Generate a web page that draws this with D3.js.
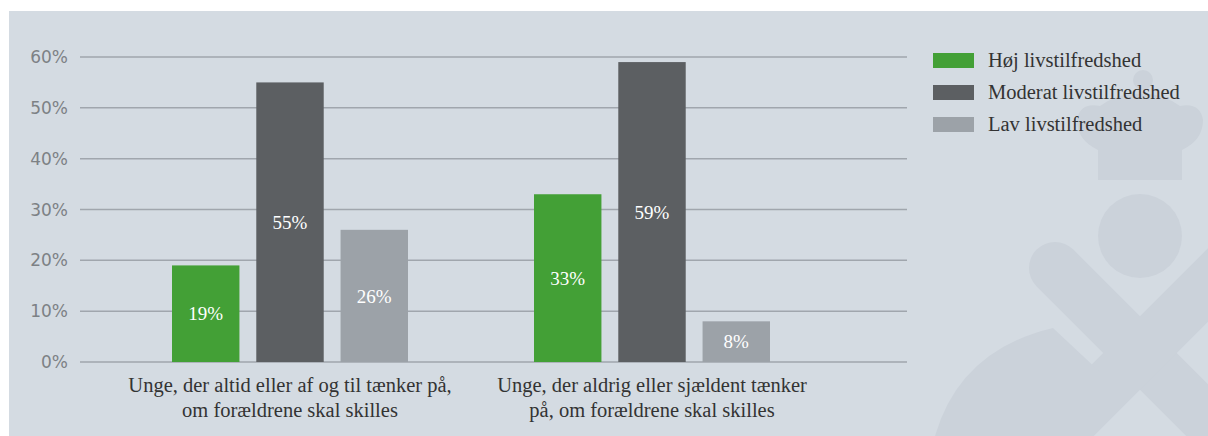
<!DOCTYPE html>
<html>
<head>
<meta charset="utf-8">
<script src="https://cdn.jsdelivr.net/npm/d3@7"></script>
<style>
  body { margin: 0; background: #fff; }
</style>
</head>
<body>
<script>
// * Data
const groups = [
	["Unge, der altid eller af og til tænker på,", "om forældrene skal skilles"],
	["Unge, der aldrig eller sjældent tænker", "på, om forældrene skal skilles"],
];
const seriesNames = ["Høj livstilfredshed", "Moderat livstilfredshed", "Lav livstilfredshed"];
const hoj = [19, 33];
const moderat = [55, 59];
const lav = [26, 8];
const yTicks = [0, 10, 20, 30, 40, 50, 60];

const colors = ["#43a036", "#5c5f62", "#9ca2a8"];
const series = [hoj, moderat, lav];

// * Size
const width = 1208;
const height = 436;
const serif = "'Liberation Serif', serif";

const svg = d3
	.select("body")
	.append("svg")
	.attr("width", width)
	.attr("height", height);

// * Panel background
svg.append("rect")
	.attr("x", 9)
	.attr("y", 11)
	.attr("width", width - 9)
	.attr("height", height - 11)
	.attr("fill", "#d4dbe2");

svg.append("clipPath")
	.attr("id", "panel")
	.append("rect")
	.attr("x", 9)
	.attr("y", 11)
	.attr("width", width - 9)
	.attr("height", height - 11);

// * Watermark (rough crown + figure)
const wm = svg.append("g").attr("clip-path", "url(#panel)").attr("fill", "#cbd2da").attr("stroke", "#cbd2da");
wm.append("rect").attr("x", 1098).attr("y", 156).attr("width", 84).attr("height", 24).attr("stroke", "none");
wm.append("path")
	.attr("d", "M1098,158 L1098,150 Q1077,140 1077,120 Q1080,102 1100,106 Q1120,92 1140,94 Q1160,92 1180,106 Q1200,102 1203,120 Q1203,140 1182,150 L1182,158 Z")
	.attr("stroke", "none");
wm.append("circle").attr("cx", 1143).attr("cy", 80).attr("r", 10).attr("stroke", "none");
wm.append("circle").attr("cx", 1140).attr("cy", 236).attr("r", 42).attr("stroke", "none");
wm.append("line")
	.attr("x1", 1055).attr("y1", 268).attr("x2", 1230).attr("y2", 443)
	.attr("stroke-width", 52).attr("stroke-linecap", "round");
wm.append("line")
	.attr("x1", 1225).attr("y1", 268).attr("x2", 1050).attr("y2", 443)
	.attr("stroke-width", 52).attr("stroke-linecap", "round");
wm.append("path")
	.attr("d", "M935,436 Q960,350 1053,328 L1100,372 L1036,436 Z")
	.attr("stroke", "none");

// * Scales
const y = d3.scaleLinear().domain([0, 60]).range([362, 57]);
const x0 = d3.scaleBand().domain(d3.range(groups.length)).range([109, 833]).padding(0);
const x1 = d3
	.scaleBand()
	.domain(d3.range(series.length))
	.range([63, 299])
	.paddingInner(0.2);

// * Grid lines
svg.append("g")
	.selectAll("line")
	.data(yTicks)
	.join("line")
	.attr("x1", 80)
	.attr("x2", 907)
	.attr("y1", (d) => y(d))
	.attr("y2", (d) => y(d))
	.attr("stroke", "#a0a6ad")
	.attr("stroke-width", 1.5);

// * Y axis labels
svg.append("g")
	.selectAll("text")
	.data(yTicks)
	.join("text")
	.attr("x", 68)
	.attr("y", (d) => y(d))
	.attr("dy", "0.36em")
	.attr("text-anchor", "end")
	.attr("font-family", "'DejaVu Sans', sans-serif")
	.attr("font-size", "17px")
	.attr("fill", "#7d8185")
	.text((d) => d + "%");

// * Bars
const groupG = svg
	.append("g")
	.selectAll("g")
	.data(groups)
	.join("g")
	.attr("transform", (d, i) => `translate(${x0(i)},0)`);

groupG.each(function (g, gi) {
	const sel = d3.select(this);
	series.forEach((s, si) => {
		const v = s[gi];
		sel.append("rect")
			.attr("x", x1(si))
			.attr("y", y(v))
			.attr("width", x1.bandwidth())
			.attr("height", y(0) - y(v))
			.attr("fill", colors[si]);
		sel.append("text")
			.attr("x", x1(si) + x1.bandwidth() / 2)
			.attr("y", (y(v) + y(0)) / 2)
			.attr("dy", "0.35em")
			.attr("text-anchor", "middle")
			.attr("font-family", serif)
			.attr("font-size", "19px")
			.attr("fill", "#ffffff")
			.text(v + "%");
	});
	// category label
	sel.append("text")
		.attr("x", x0.bandwidth() / 2)
		.attr("y", 392)
		.attr("text-anchor", "middle")
		.attr("font-family", serif)
		.attr("font-size", "20.5px")
		.attr("fill", "#333")
		.selectAll("tspan")
		.data(g)
		.join("tspan")
		.attr("x", x0.bandwidth() / 2)
		.attr("dy", (d, i) => (i === 0 ? 0 : 25))
		.text((d) => d);
});

// * Legend
const legend = svg
	.append("g")
	.selectAll("g")
	.data(seriesNames)
	.join("g")
	.attr("transform", (d, i) => `translate(933, ${53 + i * 32})`);

legend.append("rect")
	.attr("width", 41)
	.attr("height", 15)
	.attr("fill", (d, i) => colors[i]);

legend.append("text")
	.attr("x", 55)
	.attr("y", 14)
	.attr("font-family", serif)
	.attr("font-size", "20.5px")
	.attr("fill", "#333")
	.text((d) => d);
</script>
</body>
</html>
